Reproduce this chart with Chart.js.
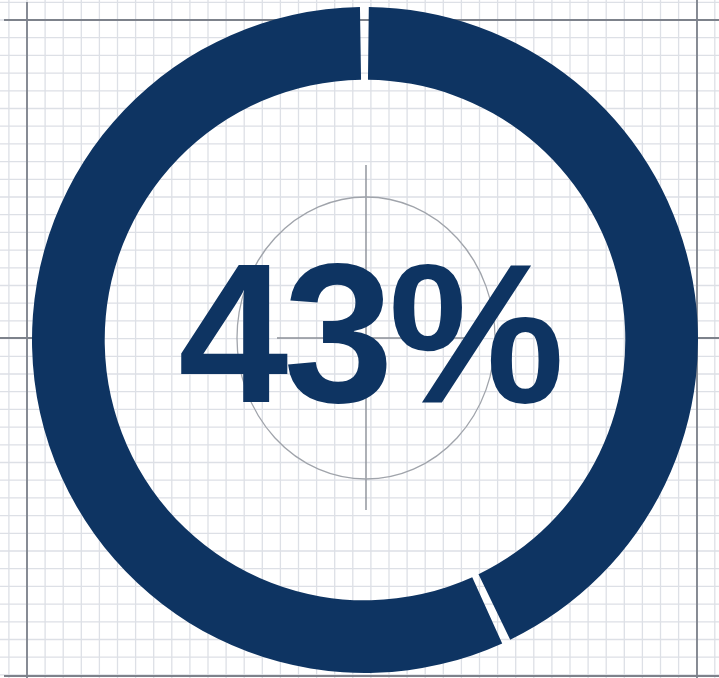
<!DOCTYPE html>
<html>
<head>
<meta charset="utf-8">
<script src="https://cdn.jsdelivr.net/npm/chart.js@4.4.0/dist/chart.umd.min.js"></script>
<style>
  html, body { margin: 0; padding: 0; background: #fff; }
  #wrap { width: 719px; height: 678px; position: relative; }
</style>
</head>
<body>
<div id="wrap"><canvas id="ring"></canvas></div>
<script>
// data
const labels = ['Completed', 'Remaining'];
const values = [43, 57];
const ringColor = '#0e3462';

// graph paper + crosshair behind the ring, percentage on top
const paper = {
    id: 'paper',
    beforeDraw(chart) {
        const c = chart.ctx;
        const W = chart.width, H = chart.height;
        c.save();
        c.fillStyle = '#ffffff';
        c.fillRect(0, 0, W, H);

        // light grid
        c.strokeStyle = '#dde0e6';
        c.lineWidth = 1.3;
        c.beginPath();
        for (let x = 27 - 18.1; x < W; x += 18.1) {
            c.moveTo(x, 0);
            c.lineTo(x, H);
        }
        for (let y = 20 - 17.7; y < H; y += 17.7) {
            c.moveTo(0, y);
            c.lineTo(W, y);
        }
        c.stroke();

        // darker frame lines
        c.strokeStyle = '#7d828b';
        c.lineWidth = 1.8;
        c.beginPath();
        c.moveTo(27, 2); c.lineTo(27, H);
        c.moveTo(697, 0); c.lineTo(697, H);
        c.moveTo(4, 20); c.lineTo(W, 20);
        c.moveTo(4, 676); c.lineTo(W, 676);
        c.moveTo(0, 338); c.lineTo(40, 338);
        c.moveTo(690, 338); c.lineTo(W, 338);
        c.stroke();

        // centre crosshair + circle
        c.strokeStyle = '#8c9098';
        c.lineWidth = 1.4;
        c.beginPath();
        c.moveTo(366, 165); c.lineTo(366, 510);
        c.moveTo(277, 338); c.lineTo(470, 338);
        c.stroke();
        c.strokeStyle = '#a0a4ab';
        c.lineWidth = 1.3;
        c.beginPath();
        c.ellipse(366, 338, 129, 141, 0, 0, Math.PI * 2);
        c.stroke();
        c.restore();
    },
    afterDraw(chart) {
        const c = chart.ctx;
        c.save();
        c.fillStyle = ringColor;
        c.font = 'bold 198px "Liberation Sans", Arial, sans-serif';
        c.textAlign = 'center';
        c.textBaseline = 'alphabetic';
        c.letterSpacing = '-5px';
        c.fillText(values[0] + '%', 369, 402);
        c.restore();
    }
};

const ctx = document.getElementById('ring');
new Chart(ctx, {
    type: 'doughnut',
    data: {
        labels: labels,
        datasets: [{
            data: values,
            backgroundColor: [ringColor, ringColor],
            borderWidth: 0,
            hoverOffset: 0
        }]
    },
    options: {
        responsive: true,
        maintainAspectRatio: false,
        animation: false,
        cutout: '78%',
        spacing: 5,
        layout: {
            padding: { left: 32, top: 7, right: 21, bottom: 5 }
        },
        plugins: {
            legend: { display: false },
            tooltip: { enabled: false }
        },
        events: []
    },
    plugins: [paper]
});
</script>
</body>
</html>
